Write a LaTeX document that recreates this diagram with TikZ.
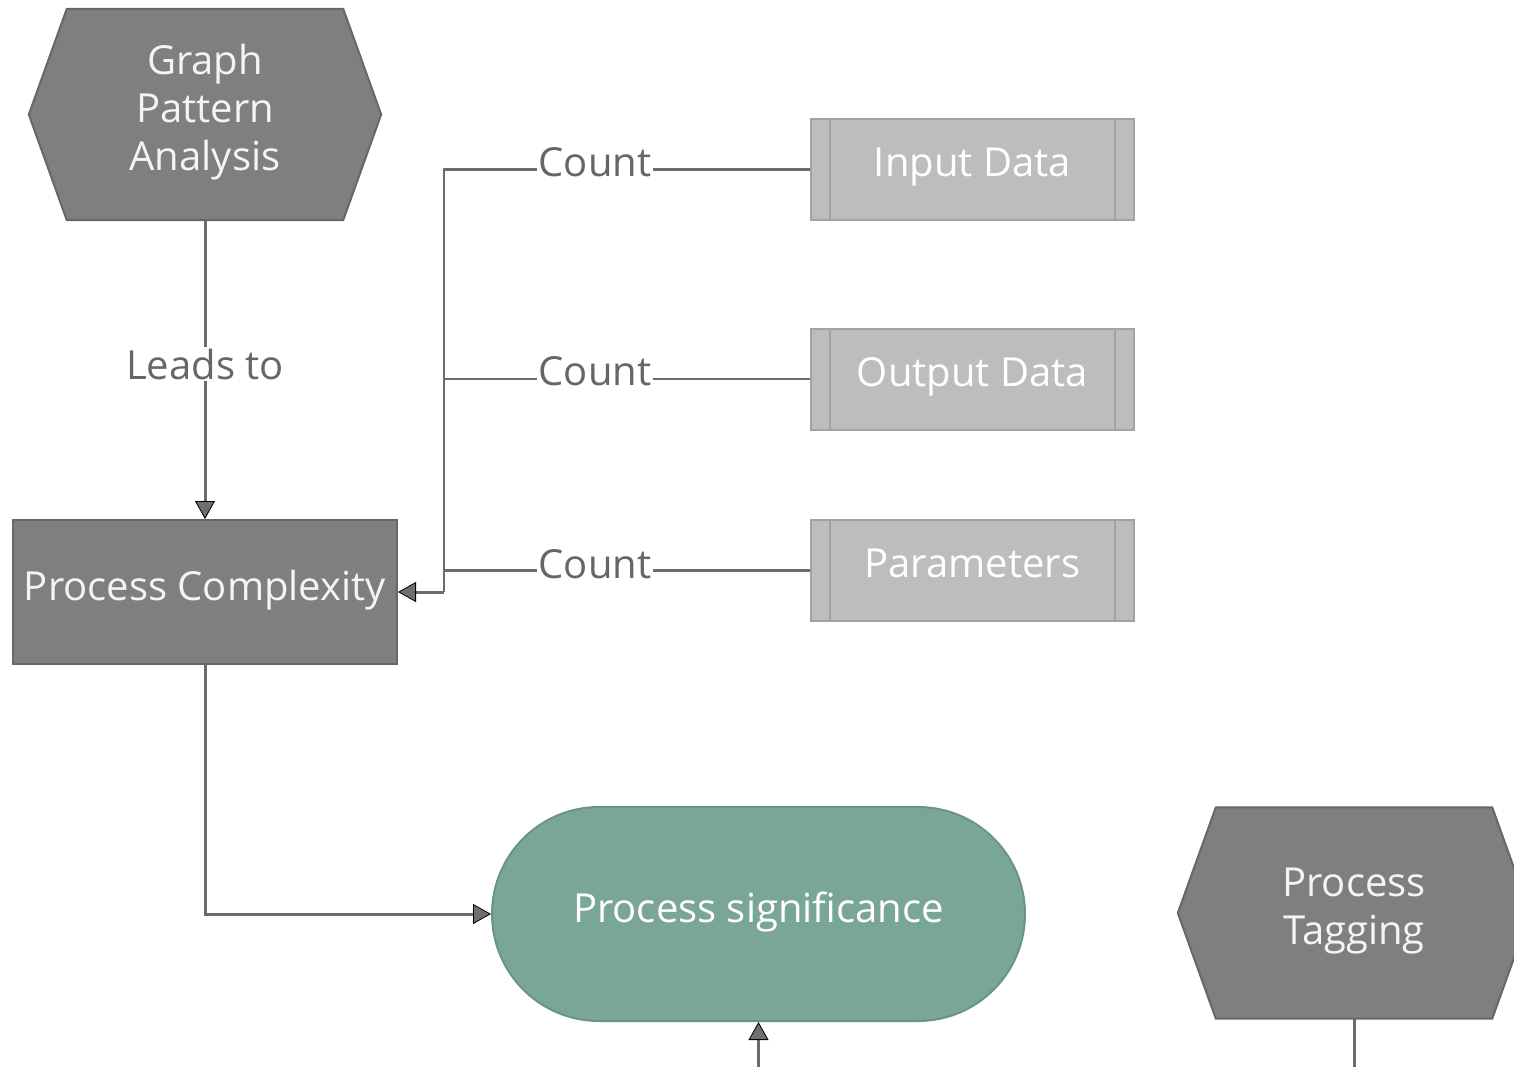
\documentclass[tikz,border=0pt]{standalone}
\usepackage{fontspec}
\setmainfont{Open Sans}
\usetikzlibrary{arrows.meta,backgrounds}
\definecolor{darkfill}{HTML}{7F7F7F}
\definecolor{darkborder}{HTML}{676767}
\definecolor{subfill}{HTML}{BDBDBD}
\definecolor{subborder}{HTML}{A2A2A2}
\definecolor{tealfill}{HTML}{7AA69A}
\definecolor{tealborder}{HTML}{6A9487}
\definecolor{linegray}{HTML}{6B6B6B}
\definecolor{labelgray}{HTML}{666666}
\definecolor{tipgray}{HTML}{6F6F6F}
\definecolor{textwhite}{HTML}{F4F4F4}
\begin{document}
\begin{tikzpicture}[x=1pt,y=-1pt,
  every node/.style={font=\fontsize{40}{48}\selectfont},
  shapetext/.style={text depth=14pt, inner sep=0pt},
  hexbox/.style={shapetext, minimum width=352pt, minimum height=211pt,
    align=center, text=textwhite},
  hexfill/.style={fill=darkfill, draw=darkborder, line width=2pt},
  darkbox/.style={shapetext, fill=darkfill, draw=darkborder, line width=2pt,
    minimum width=384pt, minimum height=144pt, text=textwhite},
  subproc/.style={shapetext, fill=subfill, draw=subborder, line width=2pt,
    minimum width=323pt, minimum height=101pt, text=white,
    path picture={
      \draw[subborder, line width=2pt]
        ([xshift=19pt]path picture bounding box.north west) --
        ([xshift=19pt]path picture bounding box.south west)
        ([xshift=-19pt]path picture bounding box.north east) --
        ([xshift=-19pt]path picture bounding box.south east);}},
  stadium/.style={shapetext, fill=tealfill, draw=tealborder, line width=2pt,
    minimum width=533pt, minimum height=214pt, rounded corners=107pt,
    text=white},
  tiparrow/.style={-{Triangle[width=20pt,length=18pt,fill=tipgray,color=black,line width=0.8pt]}},
  conn/.style={draw=linegray, line width=3pt, tiparrow},
  countline/.style={draw=linegray, line width=2.3pt},
  lbl/.style={fill=white, text=labelgray, inner sep=2pt}
]
\path[use as bounding box] (0,0) rectangle (1514,1067);
\clip (0,0) rectangle (1514,1067);

% main nodes
\node[hexbox] (gpa) at (205,114.5) {Graph\\Pattern\\Analysis};
\node[darkbox] (pc) at (205,592) {Process Complexity};
\node[subproc] (inp) at (972.5,169.5) {Input Data};
\node[subproc] (outp) at (972.5,379) {Output Data};
\node[subproc] (par) at (972.5,570.5) {Parameters};
\node[stadium] (sig) at (758.5,914) {Process significance};
\node[hexbox] (tag) at (1354,913) {Process\\Tagging};

% hexagon outlines behind the labels
\begin{scope}[on background layer]
  \foreach \h in {gpa,tag} {
    \filldraw[hexfill]
      ([xshift=38pt]\h.north west) -- ([xshift=-38pt]\h.north east) --
      (\h.east) -- ([xshift=-38pt]\h.south east) --
      ([xshift=38pt]\h.south west) -- (\h.west) -- cycle;
  }
\end{scope}

% connectors
\draw[conn] (gpa.south) -- (pc.north);
\node[lbl] (lt) at (205,364) {Leads to};

\coordinate (bus) at (444,592);
\draw[countline] (inp.west) -| (bus);
\draw[countline] (outp.west) -- (outp.west -| bus);
\draw[countline] (par.west) -- (par.west -| bus);
\draw[conn] (bus) -- (pc.east);
\node[lbl] (c1) at (595,162) {Count};
\node[lbl] (c2) at (595,371) {Count};
\node[lbl] (c3) at (595,564) {Count};

\draw[conn] (pc.south) |- (sig.west);

\coordinate (sigin) at (758.5,1067);
\draw[conn] (sigin) -- (sig.south);

\coordinate (tagout) at (1354,1067);
\draw[countline, line width=3pt] (tag.south) -- (tagout);
\end{tikzpicture}
\end{document}
